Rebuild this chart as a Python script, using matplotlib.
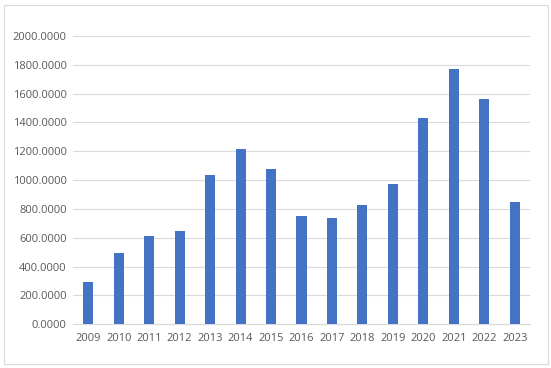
import matplotlib
matplotlib.use("Agg")
import matplotlib.pyplot as plt
from matplotlib.patches import Rectangle

years = ["2009", "2010", "2011", "2012", "2013", "2014", "2015", "2016",
         "2017", "2018", "2019", "2020", "2021", "2022", "2023"]
values = [294, 495, 613, 648, 1037, 1217, 1078, 752, 738, 828, 974, 1433, 1773, 1565, 849]
yticks = [0, 200, 400, 600, 800, 1000, 1200, 1400, 1600, 1800, 2000]

plt.rcParams['font.family'] = ['Open Sans', 'DejaVu Sans']
text_color = "#595959"

fig = plt.figure(figsize=(5.51, 3.68), dpi=100)
fig.patches.append(Rectangle((4/551, 4/368), 544/551, 359/368, transform=fig.transFigure,
                             fill=False, edgecolor="#D9D9D9", linewidth=0.8))
ax = fig.add_axes([73/551, 1 - 324.3/368, (530 - 73)/551, (324.3 - 36)/368])

x = list(range(len(years)))
ax.bar(x, values, width=0.33, color="#4472C4", zorder=3)
ax.set_xlim(-0.5, len(years) - 0.5)
ax.set_ylim(0, 2000)
ax.set_yticks(yticks)
ax.set_yticklabels([f"{v:.4f}" for v in yticks])
ax.set_xticks(x)
ax.set_xticklabels(years)
ax.grid(axis='y', color="#D9D9D9", linewidth=0.8, zorder=0)
for s in ["top", "right", "left"]:
    ax.spines[s].set_visible(False)
ax.spines["bottom"].set_color("#D9D9D9")
ax.tick_params(axis='both', length=0, colors=text_color, labelsize=8)
ax.tick_params(axis='y', pad=4.5)
ax.tick_params(axis='x', pad=6)

fig.savefig("out.png", dpi=100)
